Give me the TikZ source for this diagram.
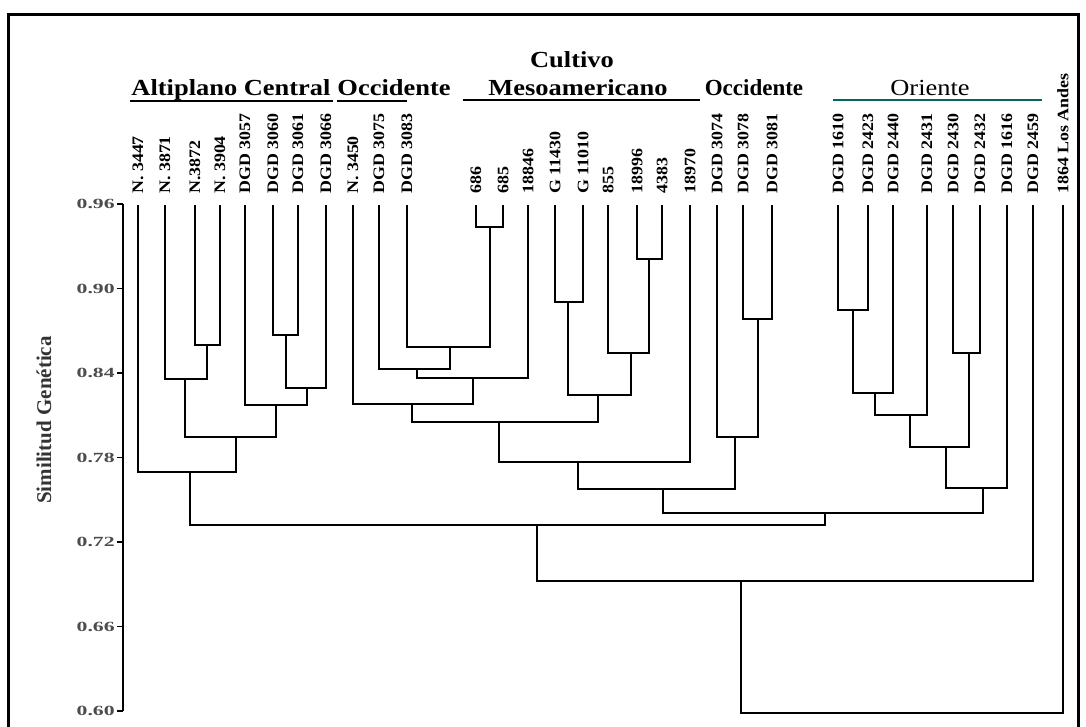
\documentclass[tikz,border=0pt]{standalone}
\usepackage{fontspec}
\setmainfont{Liberation Serif}
\usetikzlibrary{arrows,shapes}

\begin{document}
\begin{tikzpicture}[x=1pt,y=-1pt]

  \tikzstyle{leaf}=[rotate=90,xscale=1.12,anchor=west,inner sep=0pt,outer xsep=10pt,
    font=\fontsize{16}{16}\selectfont\bfseries]
  \tikzstyle{region}=[anchor=base,xscale=1.15,inner sep=0pt,
    font=\fontsize{23}{23}\selectfont\bfseries]
  \tikzstyle{plainregion}=[anchor=base,inner sep=0pt,
    font=\fontsize{23}{23}\selectfont\bfseries]
  \tikzstyle{tick}=[anchor=east,xscale=1.55,inner sep=0pt,text=black!70,
    font=\fontsize{14}{14}\selectfont\bfseries]
  \tikzstyle{branch}=[draw=black,line width=2.9pt,to path={-| (\tikztotarget)}]
  \tikzstyle{rule}=[line width=1.8pt]

  \useasboundingbox (0,0) rectangle (1086,727);
  \draw [line width=3pt] (8,740) |- (1078,15) -- (1078,740);

  %% \draw [help lines,step=50] (0,0) grid (1086,727);

  % region headings
  \node  (alt)  at (231,96)  [region]      {Altiplano Central};
  \node  (occ1) at (394,96)  [region]      {Occidente};
  \node  (cult) at (572,68)  [region]      {Cultivo};
  \node  (meso) at (578,96)  [region]      {Mesoamericano};
  \node  (occ2) at (754,96)  [plainregion] {Occidente};
  \node  (ori)  at (930,96)  [region,font=\fontsize{23}{23}\selectfont] {Oriente};

  \draw [rule] (130,101) -- (333,101);
  \draw [rule] (337,101) -- (407,101);
  \draw [rule] (463,100) -- (700,100);
  \draw [rule,color=teal!80!black] (833,100) -- (1042,100);

  % similarity axis
  \draw [line width=2.6pt] (123,204) -- (123,711);
  \foreach \v [count=\k from 0] in {0.96,0.90,0.84,0.78,0.72,0.66,0.60} {
    \draw [line width=1.8pt] (117,{204+84.5*\k}) -- (123,{204+84.5*\k});
    \node [tick] at (115,{204+84.5*\k}) {\v};
  }
  \node (ytitle) at (44,420) [rotate=90,text=black!80,
    font=\fontsize{21}{21}\selectfont\bfseries] {Similitud Genética};

  % accessions
  \node (t1)  at (138,205)  [leaf] {N. 3447};
  \node (t2)  at (165,205)  [leaf] {N. 3871};
  \node (t3)  at (195,205)  [leaf] {N.3872};
  \node (t4)  at (220,205)  [leaf] {N. 3904};
  \node (t5)  at (245,205)  [leaf] {DGD 3057};
  \node (t6)  at (273,205)  [leaf] {DGD 3060};
  \node (t7)  at (298,205)  [leaf] {DGD 3061};
  \node (t8)  at (326,205)  [leaf] {DGD 3066};
  \node (t9)  at (353,205)  [leaf] {N. 3450};
  \node (t10) at (379,205)  [leaf] {DGD 3075};
  \node (t11) at (407,205)  [leaf] {DGD 3083};
  \node (t12) at (476,205)  [leaf] {686};
  \node (t13) at (503,205)  [leaf] {685};
  \node (t14) at (528,205)  [leaf] {18846};
  \node (t15) at (555,205)  [leaf] {G 11430};
  \node (t16) at (583,205)  [leaf] {G 11010};
  \node (t17) at (608,205)  [leaf] {855};
  \node (t18) at (637,205)  [leaf] {18996};
  \node (t19) at (662,205)  [leaf] {4383};
  \node (t20) at (690,205)  [leaf] {18970};
  \node (t21) at (717,205)  [leaf] {DGD 3074};
  \node (t22) at (743,205)  [leaf] {DGD 3078};
  \node (t23) at (772,205)  [leaf] {DGD 3081};
  \node (t24) at (838,205)  [leaf] {DGD 1610};
  \node (t25) at (868,205)  [leaf] {DGD 2423};
  \node (t26) at (893,205)  [leaf] {DGD 2440};
  \node (t27) at (927,205)  [leaf] {DGD 2431};
  \node (t28) at (953,205)  [leaf] {DGD 2430};
  \node (t29) at (980,205)  [leaf] {DGD 2432};
  \node (t30) at (1007,205) [leaf] {DGD 1616};
  \node (t31) at (1033,205) [leaf] {DGD 2459};
  \node (t32) at (1063,205) [leaf] {1864 Los Andes};

  % merge points
  \coordinate (a1) at (207,345);
  \coordinate (a2) at (185,379);
  \coordinate (a3) at (286,335);
  \coordinate (a4) at (307,388);
  \coordinate (a5) at (276,405);
  \coordinate (a6) at (236,437);
  \coordinate (a7) at (190,472);
  \coordinate (b1) at (490,227);
  \coordinate (b2) at (450,347);
  \coordinate (b3) at (417,369);
  \coordinate (b4) at (473,378);
  \coordinate (b5) at (412,404);
  \coordinate (c1) at (568,302);
  \coordinate (c2) at (649,259);
  \coordinate (c3) at (631,353);
  \coordinate (c4) at (598,395);
  \coordinate (b6) at (499,422);
  \coordinate (b7) at (578,462);
  \coordinate (d1) at (758,319);
  \coordinate (d2) at (735,437);
  \coordinate (b8) at (663,489);
  \coordinate (e1) at (853,310);
  \coordinate (e2) at (875,393);
  \coordinate (e3) at (910,415);
  \coordinate (e4) at (969,353);
  \coordinate (e5) at (946,447);
  \coordinate (e6) at (983,488);
  \coordinate (f1) at (825,513);
  \coordinate (f2) at (537,525);
  \coordinate (f3) at (741,581);
  \coordinate (f4) at (903,713);

  \path (a1) edge [branch] (t3)  edge [branch] (t4)
        (a2) edge [branch] (t2)  edge [branch] (a1)
        (a3) edge [branch] (t6)  edge [branch] (t7)
        (a4) edge [branch] (a3)  edge [branch] (t8)
        (a5) edge [branch] (t5)  edge [branch] (a4)
        (a6) edge [branch] (a2)  edge [branch] (a5)
        (a7) edge [branch] (t1)  edge [branch] (a6)

        (b1) edge [branch] (t12) edge [branch] (t13)
        (b2) edge [branch] (t11) edge [branch] (b1)
        (b3) edge [branch] (t10) edge [branch] (b2)
        (b4) edge [branch] (b3)  edge [branch] (t14)
        (b5) edge [branch] (t9)  edge [branch] (b4)
        (c1) edge [branch] (t15) edge [branch] (t16)
        (c2) edge [branch] (t18) edge [branch] (t19)
        (c3) edge [branch] (t17) edge [branch] (c2)
        (c4) edge [branch] (c1)  edge [branch] (c3)
        (b6) edge [branch] (b5)  edge [branch] (c4)
        (b7) edge [branch] (b6)  edge [branch] (t20)
        (d1) edge [branch] (t22) edge [branch] (t23)
        (d2) edge [branch] (t21) edge [branch] (d1)
        (b8) edge [branch] (b7)  edge [branch] (d2)

        (e1) edge [branch] (t24) edge [branch] (t25)
        (e2) edge [branch] (e1)  edge [branch] (t26)
        (e3) edge [branch] (e2)  edge [branch] (t27)
        (e4) edge [branch] (t28) edge [branch] (t29)
        (e5) edge [branch] (e3)  edge [branch] (e4)
        (e6) edge [branch] (e5)  edge [branch] (t30)

        (f1) edge [branch] (b8)  edge [branch] (e6)
        (f2) edge [branch] (a7)  edge [branch] (f1)
        (f3) edge [branch] (f2)  edge [branch] (t31)
        (f4) edge [branch] (f3)  edge [branch] (t32);
\end{tikzpicture}
\end{document}
